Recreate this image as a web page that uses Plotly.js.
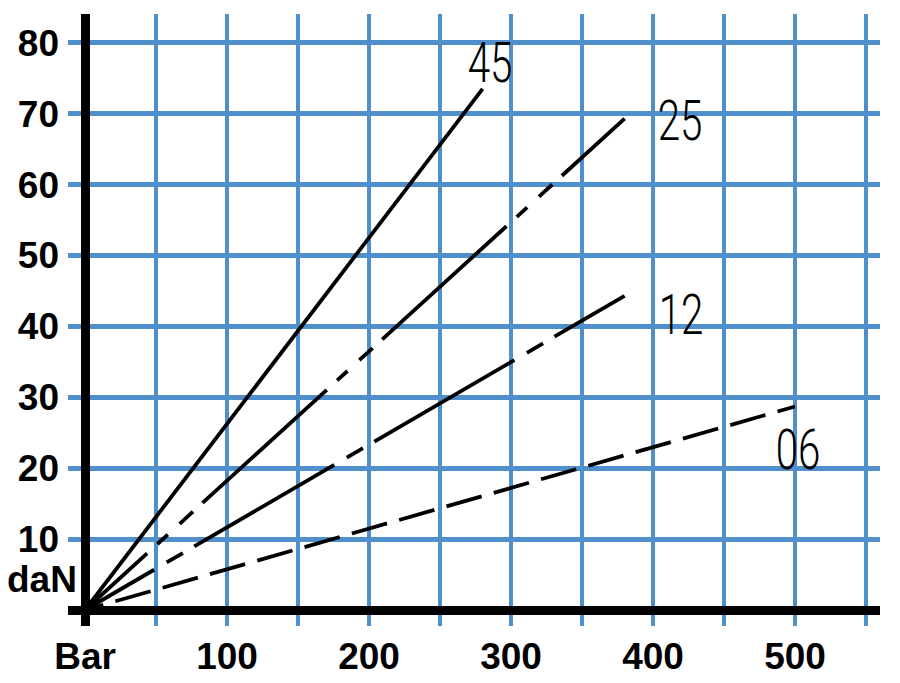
<!DOCTYPE html>
<html>
<head>
<meta charset="utf-8">
<script src="https://cdn.plot.ly/plotly-3.0.1.min.js"></script>
<style>
  html, body { margin: 0; padding: 0; background: #ffffff; }
  #chart { width: 900px; height: 683px; }
</style>
</head>
<body>
<div id="chart"></div>
<script>
// ---- data ----
const seriesNames = ['45', '25', '12', '06'];
const line45X = [0, 280];
const line45Y = [0, 73.5];
const line25X = [0, 380];
const line25Y = [0, 69.3];
const line12X = [0, 380];
const line12Y = [0, 44.3];
const line06X = [0, 500];
const line06Y = [0, 28.7];

const xTickVals = [0, 50, 100, 150, 200, 250, 300, 350, 400, 450, 500, 550];
const xTickText = ['Bar', '', '100', '', '200', '', '300', '', '400', '', '500', ''];
const yTickVals = [0, 10, 20, 30, 40, 50, 60, 70, 80];
const yTickText = ['', '10', '20', '30', '40', '50', '60', '70', '80'];
const yUnitLabel = 'daN';

// ---- styles ----
function repeatDash(first, unit, times, tail) {
  const parts = first.slice();
  for (let i = 0; i < times; i++) parts.push(...unit);
  if (tail) parts.push(...tail);
  return parts.map(v => v + 'px').join(',');
}
const dash25 = repeatDash([84, 14, 14, 16, 18, 13], [168, 14, 14, 16, 18, 13], 3, [300]);
const dash12 = repeatDash([80, 14.5, 18.7, 13.2], [162, 14.5, 18.7, 13.2], 3, [300]);
const dash06 = repeatDash([19, 12.6], [36.6, 12.6], 16);

const lineColor = '#000000';
const lineW = 3.8;
const gridColor = '#4f8fcc';
const tickFont = { family: '"Liberation Sans", Arial, sans-serif', size: 37, color: '#000000', weight: 'bold' };
const curveFont = { family: 'Roboto, "Liberation Sans", Arial, sans-serif', size: 56, color: '#000000', weight: 300 };

const traces = [
  { x: line45X, y: line45Y, name: seriesNames[0], mode: 'lines', line: { color: lineColor, width: lineW } },
  { x: line25X, y: line25Y, name: seriesNames[1], mode: 'lines', line: { color: lineColor, width: lineW, dash: dash25 } },
  { x: line12X, y: line12Y, name: seriesNames[2], mode: 'lines', line: { color: lineColor, width: lineW, dash: dash12 } },
  { x: line06X, y: line06Y, name: seriesNames[3], mode: 'lines', line: { color: lineColor, width: lineW, dash: dash06 } }
];

const labelPos = [
  { x: 285, y: 77.2 },
  { x: 419, y: 69.0 },
  { x: 419.5, y: 41.65 },
  { x: 502.4, y: 22.55 }
];
const annotations = seriesNames.map((n, i) => ({
  x: labelPos[i].x, y: labelPos[i].y, xref: 'x', yref: 'y',
  text: n, showarrow: false, xanchor: 'center', yanchor: 'middle',
  font: curveFont
}));
annotations.push({
  x: -0.032, y: 4.25, xref: 'paper', yref: 'y', text: yUnitLabel,
  showarrow: false, xanchor: 'center', yanchor: 'middle',
  font: tickFont
});

const layout = {
  width: 900, height: 683,
  margin: { l: 68, r: 20, t: 14, b: 57 },
  paper_bgcolor: '#ffffff', plot_bgcolor: '#ffffff',
  showlegend: false,
  xaxis: {
    range: [-11.97, 559.86],
    tickvals: xTickVals, ticktext: xTickText,
    showgrid: true, gridcolor: gridColor, gridwidth: 4,
    zeroline: true, zerolinecolor: '#000000', zerolinewidth: 9,
    showline: false, ticks: '',
    tickfont: tickFont, ticklabelstandoff: 5,
    fixedrange: true
  },
  yaxis: {
    range: [-2.257, 84.06],
    tickvals: yTickVals, ticktext: yTickText,
    showgrid: true, gridcolor: gridColor, gridwidth: 5,
    zeroline: true, zerolinecolor: '#000000', zerolinewidth: 9,
    showline: false, ticks: '',
    tickfont: tickFont, ticklabelstandoff: 8,
    fixedrange: true
  },
  annotations: annotations
};

Plotly.newPlot('chart', traces, layout, { displayModeBar: false, staticPlot: true }).then(gd => {
  // condensed look for the curve labels (first four annotations)
  const texts = gd.querySelectorAll('.annotation .annotation-text');
  texts.forEach((t, i) => {
    if (i < seriesNames.length) {
      t.style.transformBox = 'fill-box';
      t.style.transformOrigin = 'center';
      t.style.transform = 'scaleX(0.72)';
    }
  });
});
</script>
</body>
</html>
